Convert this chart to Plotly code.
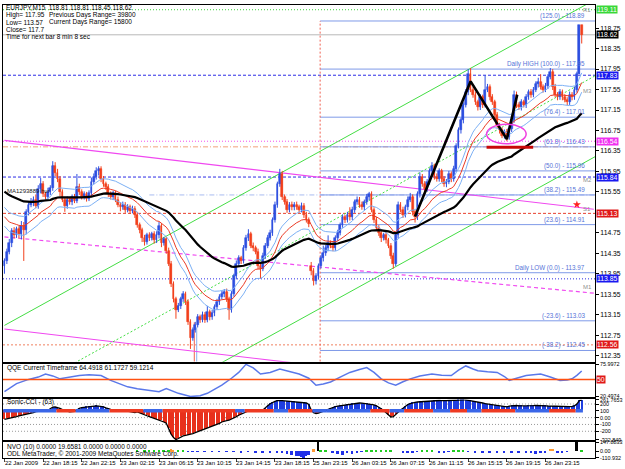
import plotly.graph_objects as go
import pandas as pd

# ---------------- DATA ----------------
CLOSE = [
 114.20,114.38,114.55,114.78,114.70,114.82,114.72,114.88,114.80,115.15,
 115.30,115.35,115.40,115.28,115.60,115.70,115.50,115.45,115.55,115.62,
 116.05,115.92,115.80,115.55,115.40,115.28,115.40,115.35,115.45,115.38,
 115.65,115.55,115.45,115.50,115.42,115.52,115.75,115.85,115.95,116.00,
 115.80,115.70,115.65,115.50,115.45,115.52,115.40,115.30,115.25,115.30,
 115.20,115.25,115.18,115.22,115.10,114.90,114.80,114.65,114.58,114.70,
 114.65,114.72,114.60,114.70,114.88,114.55,114.62,114.40,114.15,113.75,
 113.45,113.25,113.32,113.45,113.55,113.40,113.00,112.70,112.85,112.95,
 113.10,113.05,113.15,113.05,113.20,113.10,113.18,113.30,113.40,113.50,
 113.55,113.60,113.45,113.25,113.55,113.90,114.15,114.25,114.20,114.45,
 114.65,114.72,114.50,114.45,114.38,114.10,114.05,114.30,114.50,114.65,
 114.75,115.00,115.30,115.70,115.90,115.45,115.35,115.20,115.30,115.25,
 115.30,115.25,115.20,115.28,115.10,115.00,114.92,114.00,113.80,113.90,
 114.10,114.25,114.35,114.45,114.55,114.50,114.45,114.65,114.75,114.90,
 115.05,115.00,115.10,115.05,115.20,115.35,115.40,115.30,115.25,115.35,
 115.45,115.50,115.20,115.00,114.85,114.75,114.65,114.70,114.60,114.50,
 114.30,114.15,114.70,115.30,115.20,115.10,115.25,115.40,115.45,115.15,
 115.05,115.50,115.85,115.70,115.60,115.75,115.95,116.05,115.85,115.80,
 115.95,115.80,115.70,115.75,115.90,115.80,116.00,116.45,116.75,116.95,
 117.25,117.50,117.85,117.55,117.45,117.30,117.20,117.40,117.25,117.55,
 117.60,117.40,117.30,117.05,116.85,116.75,116.65,116.72,116.62,116.78,
 116.95,117.45,117.25,117.20,117.30,117.25,117.40,117.50,117.45,117.55,
 117.65,117.70,117.60,117.55,117.62,117.80,117.90,117.60,117.45,117.40,
 117.50,117.40,117.35,117.30,117.45,117.40,117.55,117.85,118.81,118.62]

UP_WICK = [  # hundredths of a yen above the body
 5,6,8,6,8,5,6,10,8,6, 5,8,6,10,8,12,6,5,8,6, 10,8,8,6,5,5,6,5,5,6,
 25,6,5,6,5,6,8,6,8,5, 5,6,5,5,6,5,5,6,5,6, 5,6,5,6,5,6,5,5,6,5,
 6,5,6,8,8,5,5,5,6,5, 5,5,6,5,6,5,5,6,5,6, 6,5,6,5,12,5,6,5,6,5,
 6,5,6,5,6,5,6,6,5,6, 6,10,5,6,5,6,5,6,5,6, 6,5,6,5,10,6,5,6,5,6,
 5,6,5,6,5,6,5,8,6,6, 5,6,15,6,15,5,6,5,6,5, 6,5,6,15,6,5,6,5,6,5,
 6,5,6,5,6,5,6,5,6,5, 5,6,5,6,5,6,5,6,8,5, 5,6,8,5,6,5,6,8,5,6,
 6,5,6,5,6,5,6,5,6,5, 5,6,10,12,5,6,5,6,5,28, 6,5,6,5,6,5,6,5,6,5,
 5,8,6,5,6,5,6,5,6,5, 6,8,15,5,6,5,7,5,6,5, 6,5,6,5,6,5,6,5,0,0]
DN_WICK = [  # hundredths of a yen below the body
 15,6,5,8,6,5,8,10,60,8, 6,5,8,5,6,8,5,6,5,6, 5,6,6,8,5,12,6,5,6,5,
 5,6,5,5,6,5,6,5,6,8, 6,5,6,5,5,6,5,5,8,5, 6,5,6,5,6,5,6,8,8,6,
 6,5,6,5,6,8,5,6,5,6, 6,18,5,6,5,6,5,22,6,5, 5,6,5,6,5,6,5,6,5,6,
 5,6,5,20,6,5,6,5,6,5, 5,6,5,6,5,6,20,5,6,5, 5,6,5,6,5,6,5,6,5,6,
 6,5,6,5,6,5,6,8,8,6, 6,5,6,5,6,5,6,5,6,5, 5,6,5,6,5,6,5,6,5,6,
 5,6,5,6,5,6,8,5,6,5, 6,10,5,6,5,6,5,6,5,6, 10,5,6,5,6,5,6,5,6,5,
 5,6,5,6,5,6,5,6,5,6, 6,5,6,5,6,5,6,5,6,5, 5,6,5,6,5,6,5,6,8,5,
 6,5,6,5,6,5,6,5,6,5, 5,6,5,6,5,6,5,6,5,6, 5,6,5,6,5,6,5,6,0,17]
FIRST_OPEN = 114.10
OPEN_OVERRIDE = {127: 114.10}      # weekend gap bar

MA_SEED_SLOW = 115.60   # black MA value before first visible bar
MA_SEED_FAST = 115.15   # red MA value before first visible bar

XLAB_BARS = [0, 16, 32, 48, 64, 80, 96, 112, 128, 144, 160, 176, 192, 208, 224]
XLAB_TEXT = ["22 Jan 2009", "22 Jan 18:15", "22 Jan 22:15", "23 Jan 02:15", "23 Jan 06:15",
             "23 Jan 10:15", "23 Jan 14:15", "23 Jan 18:15", "25 Jan 23:15", "26 Jan 03:15",
             "26 Jan 07:15", "26 Jan 11:15", "26 Jan 15:15", "26 Jan 19:15", "26 Jan 23:15"]

PRICE_TICKS = [112.35, 112.75, 113.15, 113.55, 113.95, 114.35, 114.75, 115.55,
               115.95, 116.35, 116.75, 117.15, 117.55, 117.95, 118.35, 118.75]

FIB_START_BAR = 130.7
FIB_LEVELS = [118.89, 117.95, 117.01, 116.43, 115.96, 115.49, 114.91, 113.97, 113.03, 112.45]
FIB_TEXT = ["(125.0) - 118.89", "Daily HIGH (100.0) - 117.95", "(76.4) - 117.01", "(61.8) - 116.43",
            "(50.0) - 115.96", "(38.2) - 115.49", "(23.6) - 114.91", "Daily LOW (0.0) - 113.97",
            "(-23.6) - 113.03", "(-38.2) - 112.45"]

PIVOT_LEVELS = [119.11, 117.83, 116.54, 116.43, 115.84, 115.13, 113.85, 112.56]
PIVOT_COLORS = ["#3cd23c", "#2b2be6", "#f050f0", "#f2a27a", "#2b2be6", "#e8402e", "#2b2be6", "#f08060"]
PIVOT_DASH = ["1px,2px", "3px,2px", "1px,2px", "5px,2px,1px,2px", "3px,2px", "3px,2px", "1px,2px", "2px,2px"]
PIVOT_NAMES = ["R1", "M3", "", "", "M2", "S1", "M1", ""]
PIVOT_NAME_PRICE = [119.11, 117.52, None, None, 115.78, 115.22, 113.70, None]

BOX_LEVELS = [119.11, 118.62, 117.83, 116.54, 115.84, 115.13, 113.85, 112.56]
BOX_BG = ["#38d838", "#000000", "#1818f0", "#f030f0", "#1818f0", "#e01818", "#1818f0", "#e01818"]

CURRENT_PRICE = 118.62

TL_MAGENTA = [(0, 116.555, 244, 115.21), (0, 114.67, 244, 113.57), (0, 112.87, 244, 111.52)]
TL_MAGENTA_DASH = ["solid", "4px,3px", "solid"]
TL_GREEN = [(0, 112.94, 245, 119.32), (0, 111.45, 245, 117.83), (0, 109.87, 245, 116.25)]
TL_GREEN_DASH = ["solid", "2px,2px", "solid"]

ZIGZAG_BARS = [170, 193, 208, 212.3]
ZIGZAG_PRICE = [115.07, 117.71, 116.58, 117.45]
ELLIPSE = (199.6, 116.49, 216.0, 116.87)
SUPPORT_BAR = (199.6, 218.9, 116.42)
DAY_SEP_BAR = 130.7

QQE_BARS = [0,5,10,14,17,20,23,27,31,35,40,44,48,51,55,59,64,67,72,77,81,84,87,90,94,97,100,103,106,
            110,114,118,122,126,129,132,135,139,143,147,150,153,156,159,162,165,168,172,177,181,185,
            188,191,194,196,200,204,207,209,212,216,219,222,226,230,233,235,237,239]
QQE_VALS = [28.8,42.7,50,54,59.4,56,51,54,56.6,58,56.6,48.3,42,37.2,34,31.6,28.8,34.4,26,20.5,22,26,
            33,40,52,62,76,70,59.4,62,67.7,63,59.4,52,40,42,45.5,54,62,67,70.5,62,51,44,40,46,51,56,
            59.4,57,56.6,66,73.2,68,64.9,63,62,55,48.3,52,56.6,58,59.4,54,48.3,49,51,57,64.5]

CCI = [
 -24,-18,-11,-5,6,15,25,32,40,45, 53,61,74,87,93,103,106,105,109,125,
 153,156,150,137,119,106,93,87,90,93, 112,137,147,153,159,162,168,171,173,169,
 165,159,143,131,122,119,112,109,106,103, 100,93,87,80,74,84,67,54,41,28,
 15,2,-11,-24,-38,-44,-64,-83,-162,-241, -293,-322,-306,-280,-267,-260,-254,-247,-234,-221,
 -208,-195,-182,-169,-155,-142,-129,-116,-97,-83, -64,-51,-44,-38,-24,-5,15,35,54,74,
 87,100,106,109,106,103,100,112,137,174, 205,224,240,249,252,249,246,243,240,236,
 233,230,227,224,221,215,193,112,74,61, 67,80,93,106,125,143,156,162,168,174,
 181,187,193,199,205,212,215,215,212,209, 205,202,196,187,174,156,131,106,74,35,
 8,15,48,87,112,137,168,193,205,218, 224,230,233,236,236,240,243,246,249,252,
 252,249,246,249,252,255,258,260,261,262, 262,260,255,249,243,236,230,224,215,205,
 199,193,187,181,174,168,162,159,159,168, 174,178,178,174,173,171,171,173,174,176,
 178,179,178,174,173,171,169,168,167,168, 167,165,162,163,162,165,174,199,249,258]
CCI_BASE = 100          # level the histogram and signal band are drawn from
CCI_BAND = [(0,22,"b"),(22,30,"r"),(30,44,"b"),(44,58,"r"),(58,66,"b"),(66,96,"r"),(96,100,"b"),
            (100,112,"r"),(112,118,"b"),(118,128,"r"),(128,134,"b"),(134,152,"b"),(152,160,"r"),
            (160,166,"b"),(166,178,"r"),(178,185,"b"),(185,192,"r"),(192,198,"b"),(198,212,"r"),
            (212,226,"b"),(226,237,"r"),(237,240,"b")]
CCI_LEVELS = [200, 0, -100, -200]

VOL_BARS = [55,58,60,62,64,66,68,69,70,72,74, 76,78,80,83,86,89,92,95,98,101,104,107,110,113,115,117,
            119,121,122,123,124,125,126, 128,130,131,133, 136,138,140,142,144,146,148, 150,152,154,156,
            158,160, 165,167,169,171, 173,175,177, 180,182,184, 186,188,190, 192,195,198,201,204,207,
            210,213,216,218,220,222,224, 226,227, 229,231,233, 237,239]
VOL_VALS = [6,8,5,10,8,12,20,28,22,6,5, -6,-8,-10,-8,-12,-10,-15,-12,-18,-14,-20,-24,-28,-35,-40,-50,
            -60,-75,-85,-95,-110,-90,-70, 30,147,12,8, -20,-45,-60,-30,-55,-25,-15, 10,18,8,12,
            6,5, -25,-40,-30,-15, 8,14,6, -18,-22,-12, 10,16,8, -15,-20,-25,-20,-30,-18,
            -22,-35,-40,-30,-45,-38,-20, 35,40, -25,-35,-15, 147,12]
VOL_SPECIAL = {69: "#ff9933", 70: "#ff9933", 128: "#ff9933", 130: "#000000", 226: "#ff9933",
               227: "#ff9933", 237: "#000000"}

# ---------------- DERIVED OHLC ----------------
n = len(CLOSE)
bars = list(range(n))
OPEN = [FIRST_OPEN] + CLOSE[:-1]
for k, v in OPEN_OVERRIDE.items():
    OPEN[k] = v
HIGH = [max(o, c) + u / 100 for o, c, u in zip(OPEN, CLOSE, UP_WICK)]
LOW = [min(o, c) - d / 100 for o, c, d in zip(OPEN, CLOSE, DN_WICK)]

s = pd.Series([MA_SEED_SLOW] + CLOSE)
ma_slow = s.ewm(span=62, adjust=False).mean().tolist()[1:]
s2 = pd.Series([MA_SEED_FAST] + CLOSE)
ma_fast = s2.ewm(span=21, adjust=False).mean().tolist()[1:]
env_up = [m * 1.0016 for m in ma_fast]
env_dn = [m * 0.9984 for m in ma_fast]

# ---------------- FIGURE ----------------
FONT = "Liberation Sans"
BULL, BEAR = "#2d4fe0", "#f2401c"
X_RANGE = [-0.6, 244.5]
Y_MAIN = [112.232, 119.2025]
Y_QQE = [19.0, 77.2]
Y_CCI = [-330, 268]
Y_VOL = [-114, 151]

fig = go.Figure()

for col, up in ((BULL, True), (BEAR, False)):
    idx = [i for i in bars if (CLOSE[i] >= OPEN[i]) == up]
    wx, wy = [], []
    for i in idx:
        wx += [i, i, None]
        wy += [LOW[i], HIGH[i], None]
    fig.add_trace(go.Scatter(x=wx, y=wy, mode="lines", line=dict(color=col, width=1),
                             xaxis="x", yaxis="y", showlegend=False, hoverinfo="skip"))
    fig.add_trace(go.Bar(x=idx, base=[min(OPEN[i], CLOSE[i]) for i in idx],
                         y=[abs(CLOSE[i] - OPEN[i]) for i in idx], width=0.72,
                         marker=dict(color=col, line=dict(color=col, width=0.6)),
                         xaxis="x", yaxis="y", showlegend=False, hoverinfo="skip"))

fig.add_trace(go.Scatter(x=bars, y=env_up, mode="lines", line=dict(color="#7cb0f4", width=1),
                         xaxis="x", yaxis="y", showlegend=False, hoverinfo="skip"))
fig.add_trace(go.Scatter(x=bars, y=env_dn, mode="lines", line=dict(color="#7cb0f4", width=1),
                         xaxis="x", yaxis="y", showlegend=False, hoverinfo="skip"))
fig.add_trace(go.Scatter(x=bars, y=ma_fast, mode="lines", line=dict(color="#ea3a24", width=1),
                         xaxis="x", yaxis="y", showlegend=False, hoverinfo="skip"))
fig.add_trace(go.Scatter(x=bars, y=ma_slow, mode="lines", line=dict(color="#000000", width=2.2),
                         xaxis="x", yaxis="y", showlegend=False, hoverinfo="skip"))
fig.add_trace(go.Scatter(x=ZIGZAG_BARS, y=ZIGZAG_PRICE, mode="lines",
                         line=dict(color="#000000", width=2.6), xaxis="x", yaxis="y",
                         showlegend=False, hoverinfo="skip"))
fig.add_trace(go.Scatter(x=[237], y=[115.30], mode="markers",
                         marker=dict(symbol="star", size=6, color="#ff2020"),
                         xaxis="x", yaxis="y", showlegend=False, hoverinfo="skip"))

# QQE
fig.add_trace(go.Scatter(x=QQE_BARS, y=QQE_VALS, mode="lines", line=dict(color="#5a78ea", width=1.5),
                         xaxis="x2", yaxis="y2", showlegend=False, hoverinfo="skip"))

# CCI histogram drawn from its base level
cci_cols = ["#1f3ee0" if v >= CCI_BASE else "#e8301c" for v in CCI]
fig.add_trace(go.Bar(x=bars, y=[v - CCI_BASE for v in CCI], base=CCI_BASE,
                     marker=dict(color=cci_cols, line=dict(width=0)), width=0.55,
                     xaxis="x3", yaxis="y3", showlegend=False, hoverinfo="skip"))
fig.add_trace(go.Scatter(x=bars, y=CCI, mode="lines", line=dict(color="#000000", width=1.3),
                         xaxis="x3", yaxis="y3", showlegend=False, hoverinfo="skip"))
for b0, b1, c in CCI_BAND:
    fig.add_trace(go.Scatter(x=[b0 - 0.5, b1 - 0.5], y=[CCI_BASE, CCI_BASE], mode="lines",
                             line=dict(color="#3a66e8" if c == "b" else "#ee3a22", width=3.5),
                             xaxis="x3", yaxis="y3", showlegend=False, hoverinfo="skip"))

# NVO
vcols = [VOL_SPECIAL.get(b, "#22cc22" if v >= 0 else "#2030e8") for b, v in zip(VOL_BARS, VOL_VALS)]
fig.add_trace(go.Bar(x=VOL_BARS, y=VOL_VALS, marker=dict(color=vcols, line=dict(width=0)), width=0.8,
                     xaxis="x4", yaxis="y4", showlegend=False, hoverinfo="skip"))

shapes = []
shapes.append(dict(type="line", xref="paper", x0=0, x1=1, yref="y", y0=CURRENT_PRICE, y1=CURRENT_PRICE,
                   line=dict(color="#b8b8b8", width=1), layer="below"))
for lv, col, dsh in zip(PIVOT_LEVELS, PIVOT_COLORS, PIVOT_DASH):
    shapes.append(dict(type="line", xref="paper", x0=0, x1=1, yref="y", y0=lv, y1=lv,
                       line=dict(color=col, width=1, dash=dsh), layer="below"))
shapes.append(dict(type="line", xref="x", x0=60, x1=X_RANGE[1], yref="y", y0=115.49, y1=115.49,
                   line=dict(color="#a8bcf0", width=1, dash="5px,2px,1px,2px"), layer="below"))
for lv in FIB_LEVELS:
    shapes.append(dict(type="line", xref="x", x0=FIB_START_BAR, x1=X_RANGE[1], yref="y", y0=lv, y1=lv,
                       line=dict(color="#7f9ae8", width=1), layer="below"))
shapes.append(dict(type="line", xref="x", x0=DAY_SEP_BAR, x1=DAY_SEP_BAR, yref="y", y0=Y_MAIN[0],
                   y1=118.89, line=dict(color="#f06050", width=1, dash="2px,2px"), layer="below"))
shapes.append(dict(type="line", xref="x", x0=78.6, x1=78.6, yref="y", y0=Y_MAIN[0], y1=113.0,
                   line=dict(color="#f06050", width=1), layer="below"))
shapes.append(dict(type="line", xref="x", x0=79.6, x1=79.6, yref="y", y0=Y_MAIN[0], y1=112.9,
                   line=dict(color="#8ab0f0", width=1), layer="below"))
for (b0, p0, b1, p1), d in zip(TL_MAGENTA, TL_MAGENTA_DASH):
    shapes.append(dict(type="line", xref="x", yref="y", x0=b0, y0=p0, x1=b1, y1=p1,
                       line=dict(color="#f048f0", width=1.2, dash=d), layer="below"))
for (b0, p0, b1, p1), d in zip(TL_GREEN, TL_GREEN_DASH):
    shapes.append(dict(type="line", xref="x", yref="y", x0=b0, y0=p0, x1=b1, y1=p1,
                       line=dict(color="#44dd44", width=1, dash=d), layer="below"))
shapes.append(dict(type="circle", xref="x", yref="y", x0=ELLIPSE[0], y0=ELLIPSE[1], x1=ELLIPSE[2],
                   y1=ELLIPSE[3], line=dict(color="#f040e0", width=1.5)))
shapes.append(dict(type="line", xref="x", yref="y", x0=SUPPORT_BAR[0], x1=SUPPORT_BAR[1],
                   y0=SUPPORT_BAR[2], y1=SUPPORT_BAR[2], line=dict(color="#c80808", width=3)))
shapes.append(dict(type="line", xref="paper", x0=0, x1=1, yref="y2", y0=50, y1=50,
                   line=dict(color="#ff5010", width=1.5)))
for lv in CCI_LEVELS:
    shapes.append(dict(type="line", xref="paper", x0=0, x1=1, yref="y3", y0=lv, y1=lv,
                       line=dict(color="#9a9a9a", width=1, dash="1px,2px"), layer="below"))

ann = []
def px(xp):
    return (xp - 2) / 598.0
def py(yp):
    return (458 - yp) / 456.0
def bx(b):
    return max(0.0, (b - X_RANGE[0]) / (X_RANGE[1] - X_RANGE[0]))

def text(x, y, t, color="#000000", size=6.5, anchor="left"):
    ann.append(dict(xref="paper", yref="paper", x=px(x), y=py(y), text=t, showarrow=False,
                    xanchor=anchor, yanchor="middle", font=dict(family=FONT, size=size, color=color)))

text(3, 5, "EURJPY,M15  118.81 118.81 118.45 118.62")
text(3, 12.5, "High= 117.95")
text(46, 12.5, "Previous Days Range= 39800")
text(3, 19.5, "Low= 113.57")
text(46, 19.5, "Current Days Range= 15800")
text(3, 26.5, "Close= 117.7")
text(3, 34, "Time for next bar 8 min 8 sec")
text(4, 189, "MA1293889 hur", color="#222222", size=6)
text(4, 367, "QQE Current Timeframe 64.4918 61.1727 59.1214")
text(4, 401.5, "Sonic-CCI - (63)")
text(4, 446.5, "NVO (10) 0.0000 19.6581 0.0000 0.0000 0.0000")
text(4, 453.5, "ODL MetaTrader, © 2001-2009 MetaQuotes Software Corp.")

for lv, t in zip(FIB_LEVELS, FIB_TEXT):
    ann.append(dict(xref="paper", yref="y", x=px(592), y=lv, text=t, showarrow=False, xanchor="right",
                    yanchor="bottom", yshift=-1, font=dict(family=FONT, size=6.3, color="#5674d8")))
for nm, pr in zip(PIVOT_NAMES, PIVOT_NAME_PRICE):
    if nm:
        ann.append(dict(xref="paper", yref="y", x=px(586), y=pr, text=nm, showarrow=False,
                        xanchor="left", yanchor="middle", font=dict(family=FONT, size=6.0, color="#909090")))
for lv, bg in zip(BOX_LEVELS, BOX_BG):
    ann.append(dict(xref="paper", yref="y", x=1, xshift=1, y=lv, text="%.2f" % lv, showarrow=False,
                    xanchor="left", yanchor="middle", bgcolor=bg, borderpad=0,
                    font=dict(family=FONT, size=6.8, color="#ffffff")))
ann.append(dict(xref="paper", yref="y2", x=1, xshift=1, y=50, text="50", showarrow=False,
                xanchor="left", yanchor="middle", bgcolor="#e01818", borderpad=0,
                font=dict(family=FONT, size=6.8, color="#ffffff")))
for b, t in zip(XLAB_BARS, XLAB_TEXT):
    ann.append(dict(xref="paper", yref="paper", x=bx(b - 1.0), y=py(463.5), text=t, showarrow=False,
                    xanchor="left", yanchor="middle", font=dict(family=FONT, size=6.0, color="#000000")))

axis_common = dict(showline=True, mirror=True, linecolor="#000000", linewidth=1, showgrid=False,
                   zeroline=False)
yax_common = dict(axis_common, side="right", ticks="outside", ticklen=3, tickcolor="#000000",
                  tickfont=dict(family=FONT, size=6.8, color="#000000"))
small_ticks = dict(family=FONT, size=5.4, color="#000000")

fig.update_layout(
    width=625, height=469, margin=dict(l=2, r=25, t=2, b=11),
    paper_bgcolor="#ffffff", plot_bgcolor="#ffffff", showlegend=False, bargap=0, barmode="overlay",
    font=dict(family=FONT, size=7),
    xaxis=dict(axis_common, domain=[0, 1], anchor="y", range=X_RANGE, showticklabels=False),
    xaxis2=dict(axis_common, domain=[0, 1], anchor="y2", range=X_RANGE, showticklabels=False,
                matches="x"),
    xaxis3=dict(axis_common, domain=[0, 1], anchor="y3", range=X_RANGE, showticklabels=False,
                matches="x"),
    xaxis4=dict(axis_common, domain=[0, 1], anchor="y4", range=X_RANGE, showticklabels=False,
                matches="x", ticks="outside", ticklen=3, tickvals=XLAB_BARS),
    yaxis=dict(yax_common, domain=[py(361), 1], anchor="x", range=Y_MAIN, tickvals=PRICE_TICKS,
               ticktext=["%.2f" % v for v in PRICE_TICKS]),
    yaxis2=dict(yax_common, domain=[py(397), py(363)], anchor="x2", range=Y_QQE,
                tickvals=[20.4974, 75.9972], ticktext=["20.4974", "75.9972"], tickfont=small_ticks),
    yaxis3=dict(yax_common, domain=[py(440), py(399)], anchor="x3", range=Y_CCI,
                tickvals=[-322.849, -200, -100, 0, 100, 200, 261.7653],
                ticktext=["-322.849", "-200", "-100", "0.00", "100", "200", "261.7653"],
                tickfont=small_ticks),
    yaxis4=dict(yax_common, domain=[0, py(442)], anchor="x4", range=Y_VOL,
                tickvals=[-110.932, 0, 147.8833], ticktext=["-110.932", "0.00", "147.8833"],
                tickfont=small_ticks),
    shapes=shapes, annotations=ann,
)

fig.write_html("out.html")
